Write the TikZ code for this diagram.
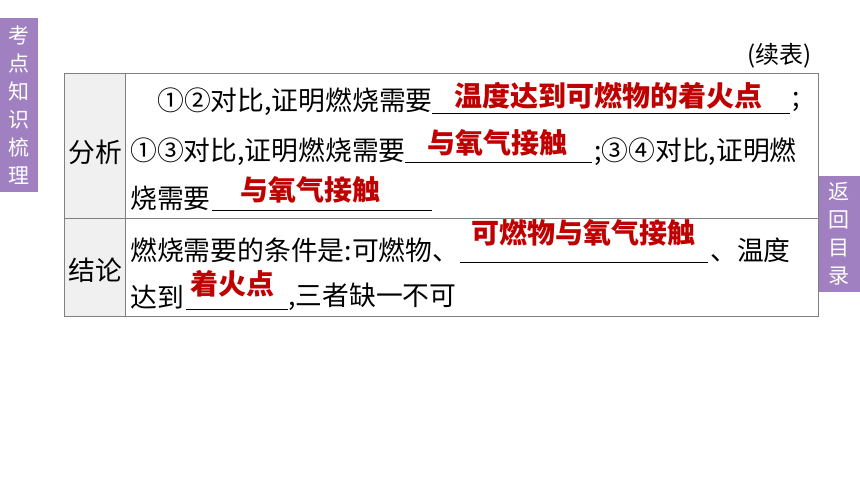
\documentclass[tikz,border=0pt]{standalone}
\usepackage{fontspec}
\setmainfont{Noto Sans CJK SC}
\usepackage{tikz}
\usetikzlibrary{positioning}
\definecolor{tabpurple}{RGB}{160,128,192}
\definecolor{cellgray}{RGB}{240,240,240}
\definecolor{ansred}{RGB}{192,0,0}
\tikzstyle{txt} = [anchor=west, inner sep=0pt, font=\fontsize{26.8}{27}\selectfont]
\tikzstyle{ans} = [inner sep=0pt, text=ansred, font=\fontsize{28}{28}\selectfont\bfseries]
\tikzstyle{tab} = [fill=tabpurple, draw=none]
\tikzstyle{tabtext} = [text=white, align=center, font=\fontsize{21}{28}\selectfont]
\tikzstyle{blank} = [thin, color=black]
\begin{document}
\begin{tikzpicture}[x=1pt, y=-1pt]
    \useasboundingbox (0,0) rectangle (860,484);

    % side tabs
    \fill[tab] (0,18) rectangle (38,192);
    \node[tabtext] (lefttab) at (19,105) {考\\点\\知\\识\\梳\\理};
    \fill[tab] (818,176) rectangle (860,292);
    \node[tabtext] (righttab) at (839,234) {返\\回\\目\\录};

    \node[anchor=east, inner sep=0pt, font=\fontsize{24}{24}\selectfont] (cont) at (812,56) {(续表)};

    % table
    \fill[cellgray] (64,73) rectangle (125,316);
    \draw[gray, thin] (64,73) rectangle (818,316);
    \draw[gray, thin] (125,73) -- (125,316);
    \draw[gray, thin] (64,218) -- (818,218);
    \node[inner sep=0pt, font=\fontsize{26.8}{27}\selectfont] (hfx) at (95,152) {分析};
    \node[inner sep=0pt, font=\fontsize{26.8}{27}\selectfont] (hjl) at (95,270) {结论};

    % row 1
    \node[txt] (a1) at (157,102) {①②对比,证明燃烧需要};
    \draw[blank] (432,113) -- (790,113);
    \node[ans] (ans1) at (608,96) {温度达到可燃物的着火点};
    \node[txt] (a1e) at (792,102) {;};
    \node[txt] (a2) at (130,152) {①③对比,证明燃烧需要};
    \draw[blank] (405,162) -- (592,162);
    \node[ans] (ans2) at (497,143) {与氧气接触};
    \node[txt] (a2e) at (594,152) {;③④对比,证明燃};
    \node[txt] (a3) at (130,198) {烧需要};
    \draw[blank] (212,210) -- (432,210);
    \node[ans] (ans3) at (310,190) {与氧气接触};

    % row 2
    \node[txt] (b1) at (130,250) {燃烧需要的条件是:可燃物、};
    \draw[blank] (460,262) -- (708,262);
    \node[ans] (ans4) at (583,233) {可燃物与氧气接触};
    \node[txt] (b1e) at (710,250) {、温度};
    \node[txt] (b2) at (130,297) {达到};
    \draw[blank] (186,309) -- (288,309);
    \node[ans] (ans5) at (232,284) {着火点};
    \node[txt] (b2e) at (288,297) {,三者缺一不可};
\end{tikzpicture}
\end{document}
